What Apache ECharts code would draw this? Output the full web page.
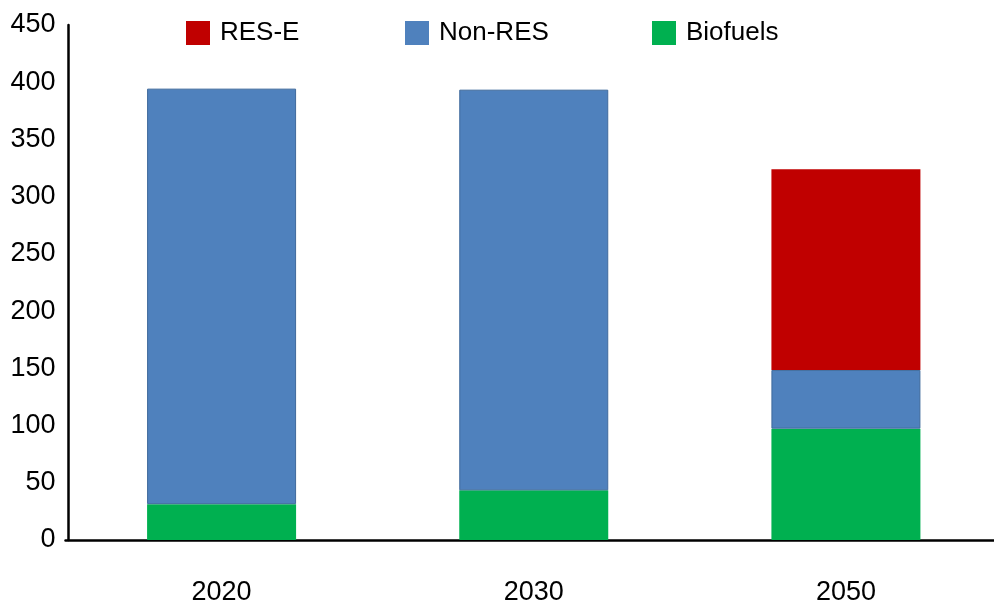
<!DOCTYPE html>
<html>
<head>
<meta charset="utf-8">
<script src="https://cdn.jsdelivr.net/npm/echarts@6/dist/echarts.min.js"></script>
<style>html,body{margin:0;padding:0;background:#fff;overflow:hidden;width:994px;height:606px}#c{width:1002px;height:606px}</style>
</head>
<body>
<div id="c"></div>
<script>
const categories = ['2020', '2030', '2050'];
const biofuels = [31.3, 43.4, 97.3];
const nonRes = [363.1, 350.1, 51.3];
const resE = [0, 0, 175.4];
const yTicks = [0, 50, 100, 150, 200, 250, 300, 350, 400, 450];

const FONT = '"Liberation Sans", Arial, sans-serif';
const chart = echarts.init(document.getElementById('c'), null, {renderer: 'canvas'});
function lg(name, left) {
  return {
    data: [name], left: left, top: 20, padding: 0, itemWidth: 24, itemHeight: 24,
    icon: 'rect', itemStyle: {borderWidth: 0},
    textStyle: {fontFamily: FONT, fontSize: 26, color: '#000', padding: [0, 0, 0, 5]}
  };
}
chart.setOption({
  animation: false,
  backgroundColor: '#fff',
  legend: [lg('RES-E', 186), lg('Non-RES', 405), lg('Biofuels', 652)],
  grid: {left: 65.5, right: 0, top: 25, bottom: 63, containLabel: false},
  xAxis: {
    type: 'category', data: categories,
    axisLine: {lineStyle: {color: '#000', width: 2.5}},
    axisTick: {show: false},
    axisLabel: {fontFamily: FONT, fontSize: 27, color: '#000', margin: 39}
  },
  yAxis: {
    type: 'value', min: yTicks[0], max: yTicks[yTicks.length - 1], interval: 50,
    offset: -3,
    axisLine: {show: true, lineStyle: {color: '#000', width: 2.5}},
    axisTick: {show: false},
    splitLine: {show: false},
    axisLabel: {fontFamily: FONT, fontSize: 27, color: '#000', margin: 13}
  },
  series: [
    {name: 'Biofuels', type: 'bar', stack: 's', data: biofuels, barWidth: 149,
     itemStyle: {color: '#00B050'}},
    {name: 'Non-RES', type: 'bar', stack: 's', data: nonRes, barWidth: 149,
     itemStyle: {color: '#4F81BD', borderColor: '#3F6A9C', borderWidth: 1}},
    {name: 'RES-E', type: 'bar', stack: 's', data: resE, barWidth: 149,
     itemStyle: {color: '#C00000'}}
  ]
});
</script>
</body>
</html>
